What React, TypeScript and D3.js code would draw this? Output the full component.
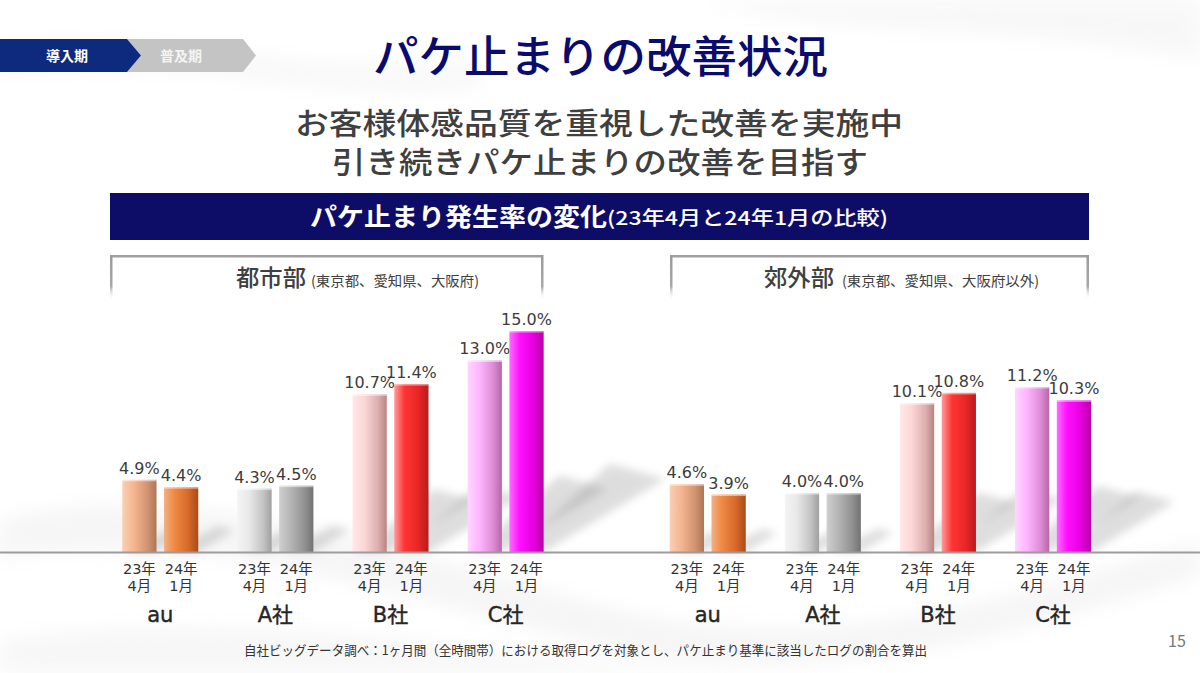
import React from "react";
import * as d3 from "d3";

const companies = ["au", "A社", "B社", "C社"];
const periodKeys = ["apr23", "jan24"];
const periodLine1 = ["23年", "24年"];
const periodLine2 = ["4月", "1月"];
const urbanApr23 = [4.9, 4.3, 10.7, 13.0];
const urbanJan24 = [4.4, 4.5, 11.4, 15.0];
const suburbApr23 = [4.6, 4.0, 10.1, 11.2];
const suburbJan24 = [3.9, 4.0, 10.8, 10.3];
const yTicks = [0, 15];

const barGradients: { [k: string]: string[][] } = {
  "au-0": [["0", "#f9d0b4"], ["0.35", "#f4b48e"], ["0.75", "#d09270"], ["1", "#ad7656"]],
  "au-1": [["0", "#f3b086"], ["0.3", "#ef8a44"], ["0.7", "#d8692a"], ["1", "#a84c1a"]],
  "A社-0": [["0", "#f4f4f4"], ["0.35", "#e8e8e8"], ["0.75", "#c4c4c4"], ["1", "#a0a0a0"]],
  "A社-1": [["0", "#cfcfcf"], ["0.35", "#b4b4b4"], ["0.75", "#919191"], ["1", "#727272"]],
  "B社-0": [["0", "#ffe8e8"], ["0.35", "#fcd6d6"], ["0.75", "#dcaeae"], ["1", "#b88484"]],
  "B社-1": [["0", "#ff9a9a"], ["0.3", "#ff3434"], ["0.7", "#e82626"], ["1", "#b81c1c"]],
  "C社-0": [["0", "#ffd6ff"], ["0.35", "#ffb4ff"], ["0.75", "#dc8cd4"], ["1", "#b866a8"]],
  "C社-1": [["0", "#ff6cff"], ["0.3", "#ff10ff"], ["0.7", "#e600e0"], ["1", "#b800a4"]],
};

const baseY = 552;
const y = d3.scaleLinear().domain([yTicks[0], yTicks[1]]).range([baseY, 331]);
const inner = d3.scaleBand().domain(periodKeys).range([-38, 38]).paddingInner(0.18);

const panels = [
  { id: "urban", values: [urbanApr23, urbanJan24], range: [102.7, 563.2] },
  { id: "suburb", values: [suburbApr23, suburbJan24], range: [650.2, 1110.6] },
];

const JP = "'Noto Sans CJK JP', 'Noto Sans', sans-serif";
const NUM = "'DejaVu Sans', 'Noto Sans CJK JP', sans-serif";

function Panel({ panel }: { panel: any }) {
  const x = d3.scaleBand().domain(companies).range(panel.range as [number, number]);
  const bw = inner.bandwidth();
  const items: any[] = [];
  companies.forEach((c, ci) => {
    periodKeys.forEach((p, pi) => {
      const v = panel.values[pi][ci];
      const cx = (x(c) as number) + x.bandwidth() / 2 + (inner(p) as number) + bw / 2;
      items.push({ c, pi, v, cx });
    });
  });
  return (
    <g>
      {items.map((d, i) => {
        const h = baseY - y(d.v);
        const x0 = d.cx - bw / 2;
        const pts = [
          [x0 + 4, baseY],
          [x0 + bw, baseY],
          [x0 + bw + h * 0.55, baseY - h * 0.33],
          [x0 + bw + h * 0.3, baseY - h * 0.4],
        ];
        return (
          <polygon
            key={"s" + i}
            points={pts.map((q) => q.join(",")).join(" ")}
            fill="#6a6a6a"
            opacity={0.22}
            filter="url(#shadowBlur)"
          />
        );
      })}
      {items.map((d, i) => (
        <g key={"b" + i}>
          <rect
            x={d.cx - bw / 2}
            y={y(d.v)}
            width={bw}
            height={baseY - y(d.v)}
            fill={`url(#g-${companies.indexOf(d.c)}-${d.pi})`}
          />
          <rect x={d.cx - bw / 2} y={y(d.v)} width={bw} height={1.5} fill="#ffffff" opacity={0.5} />
          <text
            x={d.cx}
            y={y(d.v) - 6}
            textAnchor="middle"
            fontFamily={NUM}
            fontSize={16}
            fill="#3c3c3c"
          >
            {d.v.toFixed(1) + "%"}
          </text>
          <text x={d.cx} y={574} textAnchor="middle" fontFamily={NUM} fontSize={14.5} fill="#333">
            {periodLine1[d.pi]}
          </text>
          <text x={d.cx} y={591} textAnchor="middle" fontFamily={NUM} fontSize={14.5} fill="#333">
            {periodLine2[d.pi]}
          </text>
        </g>
      ))}
      {companies.map((c) => (
        <text
          key={c}
          x={(x(c) as number) + x.bandwidth() / 2}
          y={622}
          textAnchor="middle"
          fontFamily={NUM}
          fontSize={21}
          fill="#262626"
          stroke="#262626"
          strokeWidth={0.4}
        >
          {c}
        </text>
      ))}
    </g>
  );
}

export default function App() {
  return (
    <svg
      width={1200}
      height={673}
      viewBox="0 0 1200 673"
      style={{ position: "absolute", left: 0, top: 0, display: "block", background: "#ffffff" }}
    >
      <defs>
        {companies.map((c, ci) =>
          [0, 1].map((pi) => (
            <linearGradient key={c + pi} id={`g-${ci}-${pi}`} x1="0" x2="1" y1="0" y2="0">
              {barGradients[`${c}-${pi}`].map((s, si) => (
                <stop key={si} offset={s[0]} stopColor={s[1]} />
              ))}
            </linearGradient>
          ))
        )}
        <filter id="shadowBlur" x="-50%" y="-50%" width="200%" height="200%">
          <feGaussianBlur stdDeviation="4" />
        </filter>
        <filter id="bgBlur" x="-20%" y="-20%" width="140%" height="140%">
          <feGaussianBlur stdDeviation="10" />
        </filter>
        <linearGradient id="sideFade" x1="0" x2="0" y1="0" y2="1">
          <stop offset="0" stopColor="#9a9a9a" />
          <stop offset="0.7" stopColor="#a8a8a8" />
          <stop offset="1" stopColor="#ffffff" stopOpacity={0} />
        </linearGradient>
      </defs>

      {/* faint background swooshes */}
      <g opacity={0.5} filter="url(#bgBlur)">
        <path d="M0,520 C200,470 420,560 620,610 C820,660 1000,600 1200,540 L1200,575 C1000,640 820,690 620,650 C420,605 200,520 0,560 Z" fill="#ececec" />
        <path d="M0,640 C250,600 500,660 760,673 L0,673 Z" fill="#efefef" />
        <path d="M700,0 C820,40 1000,20 1200,60 L1200,0 Z" fill="#f0f0f0" />
        <path d="M0,80 C150,40 300,110 480,90 L480,60 C300,80 150,20 0,50 Z" fill="#f2f2f2" />
      </g>

      {/* chevrons */}
      <polygon points="127,39 243,39 256,55.5 243,72 127,72 141,55.5" fill="#c4c4c4" />
      <polygon points="0,39 127,39 141,55.5 127,72 0,72" fill="#0d2a7e" />
      <text x={67} y={60.5} textAnchor="middle" fontFamily={JP} fontWeight={700} fontSize={14} fill="#ffffff">
        導入期
      </text>
      <text x={181} y={60.5} textAnchor="middle" fontFamily={JP} fontWeight={700} fontSize={14} fill="#f4f4f4">
        普及期
      </text>

      {/* title */}
      <text x={373} y={73} fontFamily={JP} fontWeight={500} fontSize={44} fill="#0b0b6e" textLength={455} lengthAdjust="spacingAndGlyphs">
        パケ止まりの改善状況
      </text>
      <text x={295} y={134} fontFamily={JP} fontWeight={500} fontSize={30} fill="#3f3f3f" textLength={608} lengthAdjust="spacingAndGlyphs">
        お客様体感品質を重視した改善を実施中
      </text>
      <text x={332} y={173} fontFamily={JP} fontWeight={500} fontSize={30} fill="#3f3f3f" textLength={536} lengthAdjust="spacingAndGlyphs">
        引き続きパケ止まりの改善を目指す
      </text>

      {/* header band */}
      <rect x={110} y={193} width={979} height={47} fill="#0d0c66" />
      <text x={310} y={226} fontFamily={JP} fontWeight={700} fontSize={25} fill="#ffffff" textLength={297} lengthAdjust="spacingAndGlyphs">
        パケ止まり発生率の変化
      </text>
      <text x={607} y={225} fontFamily={JP} fontWeight={500} fontSize={19} fill="#ffffff" textLength={281} lengthAdjust="spacingAndGlyphs">
        (23年4月と24年1月の比較)
      </text>

      {/* panel headers */}
      <g>
        <rect x={110} y={255} width={433} height={2.5} fill="#a0a0a0" />
        <rect x={110} y={255} width={2.5} height={45} fill="url(#sideFade)" />
        <rect x={541} y={255} width={2.5} height={45} fill="url(#sideFade)" />
        <text x={236} y={286} fontFamily={JP} fontWeight={500} fontSize={23} fill="#404040" textLength={70} lengthAdjust="spacingAndGlyphs">
          都市部
        </text>
        <text x={311} y={286} fontFamily={JP} fontSize={14} fill="#404040" textLength={168} lengthAdjust="spacingAndGlyphs">
          (東京都、愛知県、大阪府)
        </text>

        <rect x={670} y={255} width={419} height={2.5} fill="#a0a0a0" />
        <rect x={670} y={255} width={2.5} height={45} fill="url(#sideFade)" />
        <rect x={1086.5} y={255} width={2.5} height={45} fill="url(#sideFade)" />
        <text x={764} y={286} fontFamily={JP} fontWeight={500} fontSize={23} fill="#404040" textLength={70} lengthAdjust="spacingAndGlyphs">
          郊外部
        </text>
        <text x={842} y={286} fontFamily={JP} fontSize={14} fill="#404040" textLength={197} lengthAdjust="spacingAndGlyphs">
          (東京都、愛知県、大阪府以外)
        </text>
      </g>

      {panels.map((p) => (
        <Panel key={p.id} panel={p} />
      ))}

      {/* baseline */}
      <line x1={0} x2={1200} y1={y(0) + 0.5} y2={y(0) + 0.5} stroke="#9c9c9c" strokeWidth={2} />

      {/* footnote */}
      <text x={244} y={655} fontFamily={JP} fontSize={13} fill="#333" textLength={683} lengthAdjust="spacingAndGlyphs">
        自社ビッグデータ調べ：1ヶ月間（全時間帯）における取得ログを対象とし、パケ止まり基準に該当したログの割合を算出
      </text>
      <text x={1177} y={647} textAnchor="middle" fontFamily={JP} fontSize={16} fill="#777">
        15
      </text>
    </svg>
  );
}
